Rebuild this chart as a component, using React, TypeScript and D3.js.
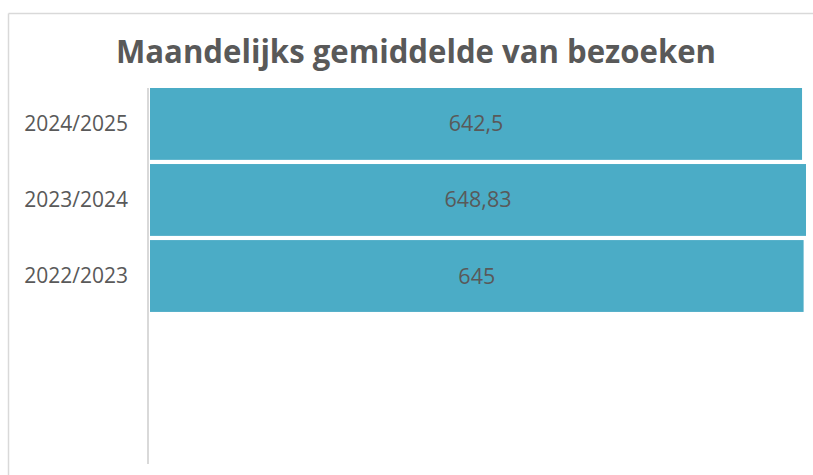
import React from 'react';
import * as d3 from 'd3';

// Excel-style bar chart, top category first, two empty slots at the bottom
const categories = ['2024/2025', '2023/2024', '2022/2023', '', ''];
const values: (number | null)[] = [642.5, 648.83, 645, null, null];
const valueLabels = ['642,5', '648,83', '645', '', ''];
const title = 'Maandelijks gemiddelde van bezoeken';

const W = 813;
const H = 475;
const font = '"Open Sans", "Noto Sans", sans-serif';
const textColor = '#595959';
const barColor = '#4BACC6';

const yScale = d3.scaleBand<number>()
  .domain(d3.range(categories.length))
  .range([88, 464])
  .paddingInner(0.055)
  .paddingOuter(0);

const xScale = d3.scaleLinear()
  .domain([-400, 648.83])
  .range([150, 806]);

export default function App() {
  return (
    <svg width={W} height={H} style={{ position: 'absolute', left: 0, top: 0, background: '#fff' }}>
      {/* chart frame */}
      <line x1={8.5} x2={W} y1={13.5} y2={13.5} stroke="#d9d9d9" strokeWidth={1.5} />
      <line x1={8.5} x2={8.5} y1={13.5} y2={H} stroke="#d9d9d9" strokeWidth={1.5} />

      <text x={416} y={63} textAnchor="middle" fontFamily={font} fontWeight="bold"
        fontSize={33} fill={textColor} textLength={600} lengthAdjust="spacingAndGlyphs">
        {title}
      </text>

      {values.map((v, i) => v == null ? null : (
        <g key={i}>
          <rect x={xScale.range()[0]} y={yScale(i)} width={xScale(v) - xScale.range()[0]}
            height={yScale.bandwidth()} fill={barColor} />
          <text x={(xScale.range()[0] + xScale(v)) / 2} y={yScale(i)! + yScale.bandwidth() / 2}
            dy="0.35em" textAnchor="middle" fontFamily={font} fontSize={21.5} fill={textColor}>
            {valueLabels[i]}
          </text>
        </g>
      ))}

      {categories.map((c, i) => (
        <text key={i} x={128} y={yScale(i)! + yScale.bandwidth() / 2} dy="0.35em"
          textAnchor="end" fontFamily={font} fontSize={21} fill={textColor}>
          {c}
        </text>
      ))}

      <line x1={148} x2={148} y1={yScale.range()[0]} y2={yScale.range()[1]} stroke="#d9d9d9" strokeWidth={2} />
    </svg>
  );
}
